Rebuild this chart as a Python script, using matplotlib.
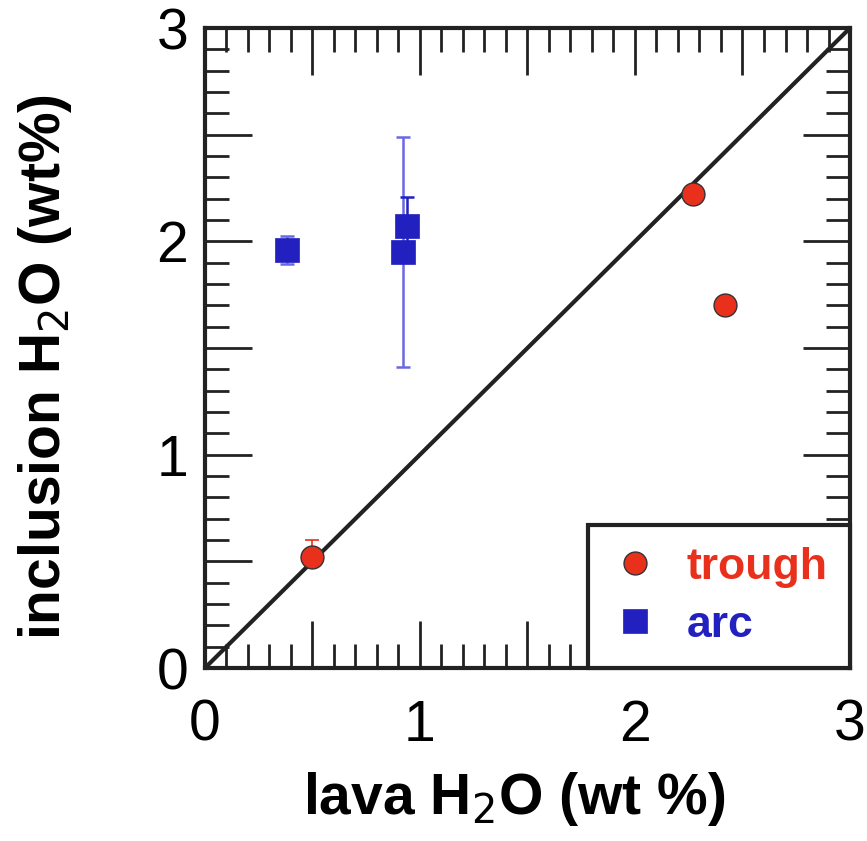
import numpy as np
import matplotlib.pyplot as plt
from matplotlib.ticker import MultipleLocator, FuncFormatter

plt.rcParams['font.family'] = ['Liberation Sans', 'DejaVu Sans']

# trough (red circles)
trough_x = [0.50, 2.27, 2.42]
trough_y = [0.52, 2.22, 1.70]
trough_err = [0.08, 0.0, 0.0]

# arc (blue squares)
arc_x = [0.38, 0.92, 0.94]
arc_y = [1.96, 1.95, 2.07]
arc_err = [0.065, 0.54, 0.14]

red = '#E8301C'
blue = '#2320C0'

fig = plt.figure(figsize=(8.67, 8.41), dpi=100)
ax = fig.add_axes([0.2364, 0.2057, 0.7440, 0.7610])

# 1:1 line
ax.plot([0, 3], [0, 3], color='#222222', lw=3, zorder=2)

# error bars
ax.errorbar(trough_x[:1], trough_y[:1], yerr=[[0], trough_err[:1]], fmt='none',
            ecolor=red, elinewidth=1.2, capsize=5, capthick=1.2, zorder=3)
ax.errorbar(arc_x[:2], arc_y[:2], yerr=arc_err[:2], fmt='none',
            ecolor='#6a68e0', elinewidth=1.8, capsize=5, capthick=1.8, zorder=3)
ax.errorbar(arc_x[2:], arc_y[2:], yerr=arc_err[2:], fmt='none',
            ecolor=blue, elinewidth=1.8, capsize=5, capthick=1.8, zorder=3)

ax.plot(trough_x, trough_y, 'o', ms=16.5, mfc=red, mec='#333333', mew=1,
        ls='none', label='trough', zorder=4)
ax.plot(arc_x, arc_y, 's', ms=17, mfc=blue, mec=blue, mew=0.5,
        ls='none', label='arc', zorder=4)

ax.set_xlim(0, 3)
ax.set_ylim(0, 3)
# long ticks every 0.5, labels only on whole numbers
ax.xaxis.set_major_locator(MultipleLocator(0.5))
ax.yaxis.set_major_locator(MultipleLocator(0.5))
ax.xaxis.set_minor_locator(MultipleLocator(0.1))
ax.yaxis.set_minor_locator(MultipleLocator(0.1))
fmt = FuncFormatter(lambda v, p: '%d' % round(v) if abs(v - round(v)) < 1e-6 else '')
ax.xaxis.set_major_formatter(fmt)
ax.yaxis.set_major_formatter(fmt)

ax.tick_params(which='both', direction='in', top=True, right=True, width=2, color='#222222')
ax.tick_params(which='major', length=34, labelsize=41)
ax.tick_params(which='minor', length=17)
ax.tick_params(axis='x', which='major', pad=22)
ax.tick_params(axis='y', which='major', pad=12)

for s in ax.spines.values():
    s.set_linewidth(3)
    s.set_color('#222222')

ax.set_xlabel('lava H$_2$O (wt %)', fontsize=41, fontweight='bold')
ax.set_ylabel('inclusion H$_2$O (wt%)', fontsize=41, fontweight='bold')
ax.xaxis.set_label_coords(0.48, -0.16)
ax.yaxis.set_label_coords(-0.203, 0.47)

leg = ax.legend(loc='lower right', bbox_to_anchor=(1, 0), borderaxespad=0,
                fancybox=False, framealpha=1,
                prop={'weight': 'bold', 'size': 32}, handletextpad=0.62,
                borderpad=0.5, labelspacing=0.38, handlelength=1.1)
leg.get_frame().set_edgecolor('#222222')
leg.get_frame().set_linewidth(3)
leg.set_zorder(5)
leg.get_texts()[0].set_color(red)
leg.get_texts()[1].set_color(blue)

fig.savefig('out.png', dpi=100)
